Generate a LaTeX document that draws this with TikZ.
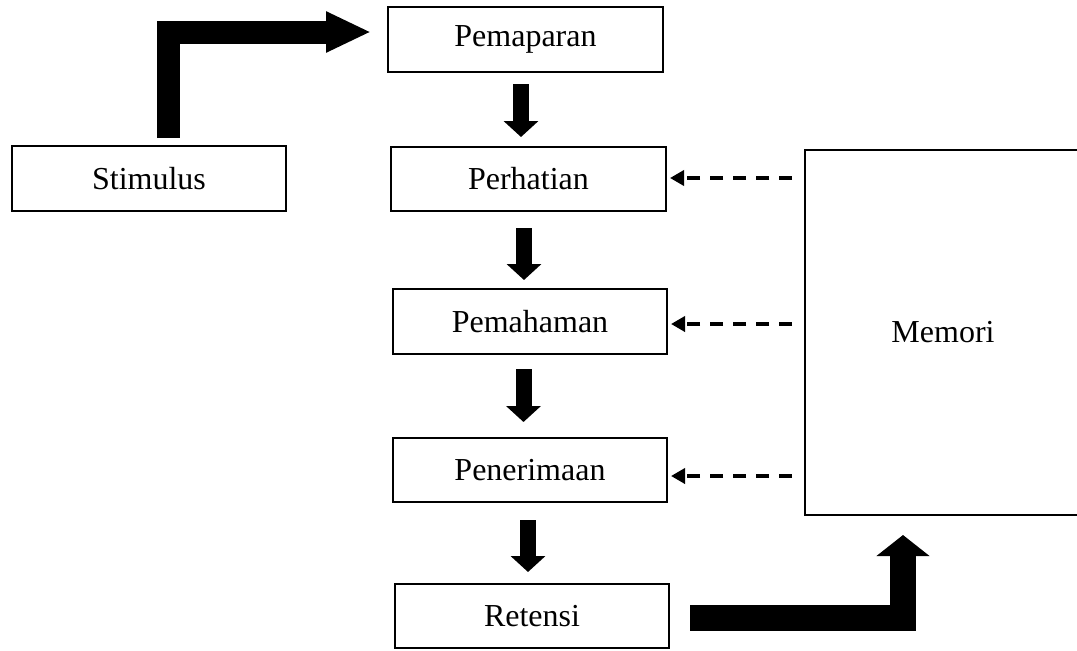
\documentclass[tikz,border=0pt]{standalone}
\usepackage{fontspec}
\setmainfont{Liberation Serif}
\usetikzlibrary{arrows.meta,calc}
\begin{document}
\begin{tikzpicture}[x=1pt,y=-1pt,
  box/.style={draw,line width=2pt,inner sep=0pt,font=\fontsize{32}{38}\selectfont},
  downarrow/.style={line width=16pt,-{Triangle[length=16pt,width=34pt]}},
  bentone/.style={line width=23pt,line join=miter,-{Triangle[length=45pt,width=38pt]}},
  benttwo/.style={line width=26pt,line join=miter,-{Triangle[length=21pt,width=52pt]}},
  dasharrow/.style={line width=3.5pt,dash pattern=on 13pt off 10pt,-{Triangle[length=14pt,width=15pt]}}]
\useasboundingbox (0,0) rectangle (1077,651);
% boxes
\node[box,minimum width=275pt,minimum height=65pt] (pem) at (525.5,39.5) {Pemaparan};
\node[box,minimum width=274pt,minimum height=65pt] (stim) at (149,178.5) {Stimulus};
\node[box,minimum width=275pt,minimum height=64pt] (per) at (528.5,179) {Perhatian};
\node[box,minimum width=274pt,minimum height=65pt] (pha) at (530,321.5) {Pemahaman};
\node[box,minimum width=274pt,minimum height=64pt] (pen) at (530,470) {Penerimaan};
\node[box,minimum width=274pt,minimum height=64pt] (ret) at (532,616) {Retensi};
\node[box,minimum width=276pt,minimum height=365pt] (mem) at (943,332.5) {Memori};
% vertical block arrows
\draw[downarrow] ([xshift=-4.5pt,yshift=-11pt]pem.south) -- ([xshift=-7.5pt,yshift=9pt]per.north);
\draw[downarrow] ([xshift=-4.5pt,yshift=-16pt]per.south) -- ([xshift=-6pt,yshift=8pt]pha.north);
\draw[downarrow] ([xshift=-6.5pt,yshift=-14pt]pha.south) -- ([xshift=-6.5pt,yshift=15pt]pen.north);
\draw[downarrow] ([xshift=-2pt,yshift=-17pt]pen.south) -- ([xshift=-4pt,yshift=11pt]ret.north);
% bent arrows
\coordinate (s1) at ([xshift=19pt,yshift=7pt]stim.north);
\coordinate (e1) at ([xshift=-16pt,yshift=7.5pt]pem.west);
\draw[bentone] (s1) |- (e1);
\coordinate (s2) at ([xshift=20pt,yshift=-2pt]ret.east);
\coordinate (e2) at ([xshift=-40pt,yshift=-19pt]mem.south);
\draw[benttwo] (s2) -| (e2);
% dashed arrows from memory
\coordinate (d1) at ([xshift=3pt,yshift=1pt]per.east);
\coordinate (d2) at ([xshift=3pt,yshift=-2.5pt]pha.east);
\coordinate (d3) at ([xshift=3pt,yshift=-6pt]pen.east);
\draw[dasharrow] ($(d1 -| mem.west)+(-12,0)$) -- (d1);
\draw[dasharrow] ($(d2 -| mem.west)+(-12,0)$) -- (d2);
\draw[dasharrow] ($(d3 -| mem.west)+(-12,0)$) -- (d3);
\end{tikzpicture}
\end{document}
